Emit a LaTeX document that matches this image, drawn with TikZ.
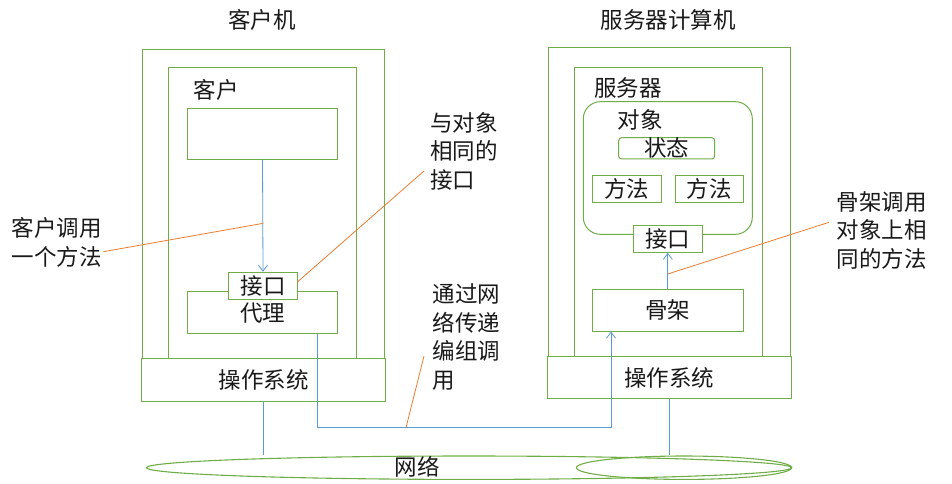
\documentclass[tikz,border=0pt]{standalone}
\usepackage{fontspec}
\setmainfont{Noto Sans CJK SC}
\usetikzlibrary{arrows.meta,shapes.geometric}
\definecolor{boxgreen}{HTML}{70AD47}
\definecolor{lineblue}{HTML}{5B9BD5}
\definecolor{noteorange}{HTML}{ED7D31}
\begin{document}
\begin{tikzpicture}[x=1pt,y=-1pt,
  every node/.style={font=\fontsize{22.5}{28.5}\selectfont, text=black!90},
  gbox/.style={draw=boxgreen, line width=1pt, fill=white, inner sep=0pt, minimum width=#1},
  gbox/.default=10pt,
  conn/.style={draw=lineblue, line width=0.8pt},
  arr/.style={conn, -{Straight Barb[length=6pt,width=9pt]}},
  note/.style={draw=noteorange, line width=0.8pt},
  notetext/.style={align=left, inner sep=0pt, anchor=west},
  lbl/.style={inner sep=0pt}
]
\useasboundingbox (0,0) rectangle (952,483);
% titles
\node[lbl] (tclient) at (262,20) {客户机};
\node[lbl] (tserver) at (668,20) {服务器计算机};

% ---------------- client
\node[gbox=242pt, minimum height=309pt] (cOuter) at (263,203.5) {};
\node[gbox=188pt, minimum height=290.7pt] (cInner) at (262.7,212.7) {};
\node[lbl] (cLabel) at (216,90) {客户};
\node[gbox=150.4pt, minimum height=50.7pt] (cTop) at (262.5,133.7) {};
\node[gbox=150.4pt, minimum height=42.3pt] (cProxy) at (262.5,312.2) {};
\node[lbl] (cProxyT) at (262.5,313) {代理};
\node[gbox=69.4pt, minimum height=27pt] (cIface) at (263,285.8) {接口};
\node[gbox=244.4pt, minimum height=42.7pt] (cOS) at (263.5,379.7) {操作系统};

% ---------------- server
\node[gbox=242pt, minimum height=310pt] (sOuter) at (669.3,202) {};
\node[gbox=188pt, minimum height=290pt] (sInner) at (668.3,212) {};
\node[lbl] (sLabel) at (628,88) {服务器};
\node[gbox=169pt, minimum height=132.6pt, rounded corners=17pt] (sObj) at (667.8,168) {};
\node[lbl] (sObjT) at (640,120) {对象};
\node[gbox=96pt, minimum height=21.3pt, rounded corners=3pt] (sState) at (666.7,148.3) {状态};
\node[gbox=69pt, minimum height=27pt] (sM1) at (626.8,188.8) {方法};
\node[gbox=68pt, minimum height=27pt] (sM2) at (709.3,188.8) {方法};
\node[gbox=69pt, minimum height=27pt] (sIface) at (667.8,238.8) {接口};
\node[gbox=151pt, minimum height=41.7pt] (sSkel) at (667.8,310.2) {骨架};
\node[gbox=244pt, minimum height=42.3pt] (sOS) at (669.3,377.8) {操作系统};

% ---------------- network
\node[draw=boxgreen, line width=1.1pt, ellipse, minimum width=645.2pt, minimum height=23.4pt, inner sep=0pt] (net) at (469,467.7) {};
\node[draw=boxgreen, line width=1.1pt, ellipse, minimum width=215.2pt, minimum height=23.4pt, inner sep=0pt] (net2) at (684,467.7) {};
\node[lbl] (netT) at (417,467) {网络};

% ---------------- connectors
\draw[arr] (cTop.south) -- (cIface.north);
\draw[arr] (sSkel.north) -- (sIface.south);
\coordinate (j1) at (317.7,427.7);
\coordinate (j2) at (611,427.7);
\draw[arr] (cProxy.south -| j1) -- (j1) -- (j2) -- (j2 |- sSkel.south);
\draw[conn] (cOS.south) -- (cOS.south |- net.north);
\draw[conn] (sOS.south) -- (sOS.south |- net.north);

% ---------------- notes
\node[notetext] (n1) at (11.7,242.3) {客户调用\\一个方法};
\node[notetext] (n2) at (430,151.3) {与对象\\相同的\\接口};
\node[notetext] (n3) at (432.7,337) {通过网\\络传递\\编组调\\用};
\node[notetext] (n4) at (836.7,230.3) {骨架调用\\对象上相\\同的方法};
\coordinate (p1a) at (103.3,251.7);
\coordinate (p1b) at (263.3,223.3);
\coordinate (p2a) at (424,171);
\coordinate (p2b) at (297.7,281.7);
\coordinate (p3a) at (424,356);
\coordinate (p3b) at (406,427.7);
\coordinate (p4a) at (829,222.3);
\coordinate (p4b) at (667.7,274);
\draw[note] (p1a) -- (p1b);
\draw[note] (p2a) -- (p2b);
\draw[note] (p3a) -- (p3b);
\draw[note] (p4a) -- (p4b);
\end{tikzpicture}
\end{document}
